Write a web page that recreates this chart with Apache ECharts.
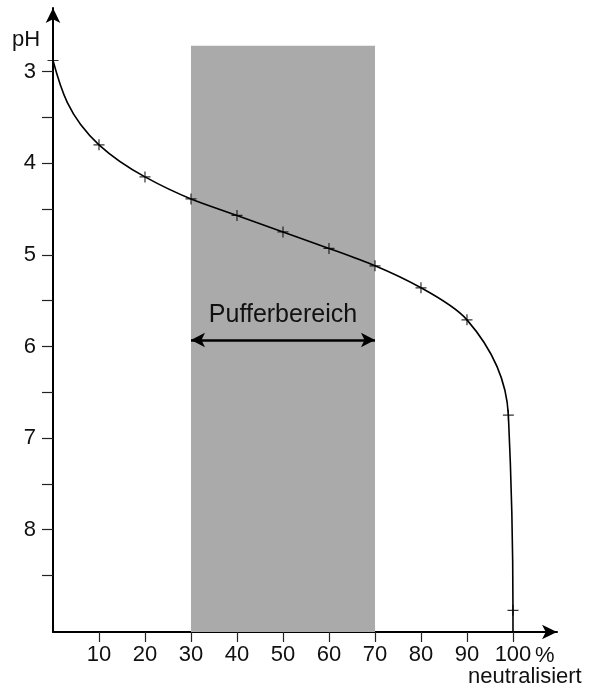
<!DOCTYPE html>
<html>
<head>
<meta charset="utf-8">
<script src="https://cdn.jsdelivr.net/npm/echarts@6/dist/echarts.min.js"></script>
<style>
  html, body { margin: 0; padding: 0; background: #fff; }
  #chart { width: 591px; height: 689px; }
</style>
</head>
<body>
<div id="chart"></div>
<script>
// Titration curve of a weak acid: pH versus percent neutralised
const neutralized = [0, 10, 20, 30, 40, 50, 60, 70, 80, 90, 99, 100];
const phValues = [2.88, 3.80, 4.15, 4.39, 4.57, 4.75, 4.93, 5.12, 5.36, 5.71, 6.75, 8.88];

// Axis ticks and labels
const xTickValues = [10, 20, 30, 40, 50, 60, 70, 80, 90, 100];
const yTickValues = [3, 3.5, 4, 4.5, 5, 5.5, 6, 6.5, 7, 7.5, 8, 8.5];
const yLabelValues = [3, 4, 5, 6, 7, 8];

// Buffer region
const bufferRange = [30, 70];
const bufferLabel = 'Pufferbereich';
const bufferArrowPh = 5.93;
const bufferTopPh = 2.72;

// Axis extents
const xMin = 0, xMax = 109.57;
const yMin = 2.307, yMax = 9.116;

const FONT = '"Liberation Sans", Arial, Helvetica, sans-serif';

const curveData = neutralized.map((x, i) => [x, phValues[i]]);
// the curve drops straight down onto the x axis at full neutralisation
curveData.push([neutralized[neutralized.length - 1], yMax]);

const plusSymbol = 'path://M0,4.45h10v1.1h-10z M4.45,0h1.1v10h-1.1z';

// Monotone cubic through screen points, with x as a function of y
// (pH rises steadily, so the curve is single-valued along y).
function monotoneYPath(pts) {
  const n = pts.length;
  const sign = v => (v > 0 ? 1 : v < 0 ? -1 : 0);
  const secant = [];
  for (let k = 0; k < n - 1; k++) {
    const h = pts[k + 1][1] - pts[k][1];
    secant.push(h ? (pts[k + 1][0] - pts[k][0]) / h : 0);
  }
  const t = new Array(n).fill(0);
  for (let k = 1; k < n - 1; k++) {
    const h0 = pts[k][1] - pts[k - 1][1];
    const h1 = pts[k + 1][1] - pts[k][1];
    const s0 = secant[k - 1], s1 = secant[k];
    const p = (s0 * h1 + s1 * h0) / (h0 + h1);
    t[k] = (sign(s0) + sign(s1)) * Math.min(Math.abs(s0), Math.abs(s1), 0.5 * Math.abs(p)) || 0;
  }
  t[0] = (3 * secant[0] - t[1]) / 2;
  t[n - 1] = (3 * secant[n - 2] - t[n - 2]) / 2;
  let d = 'M' + pts[0][0] + ',' + pts[0][1];
  for (let k = 0; k < n - 1; k++) {
    const [x0, y0] = pts[k];
    const [x1, y1] = pts[k + 1];
    const h = (y1 - y0) / 3;
    d += ' C' + (x0 + h * t[k]) + ',' + (y0 + h) + ' ' +
      (x1 - h * t[k + 1]) + ',' + (y1 - h) + ' ' + x1 + ',' + y1;
  }
  return d;
}

const chart = echarts.init(document.getElementById('chart'), null, { renderer: 'canvas' });

chart.setOption({
  animation: false,
  backgroundColor: '#fff',
  grid: { left: 53, right: 34, top: 8, bottom: 57, containLabel: false },
  xAxis: {
    type: 'value',
    min: xMin,
    max: xMax,
    splitLine: { show: false },
    axisLine: {
      show: true,
      onZero: false,
      symbol: ['none', 'arrow'],
      symbolSize: [11, 15],
      lineStyle: { color: '#000', width: 2 }
    },
    axisTick: {
      show: true,
      inside: false,
      length: 10,
      customValues: xTickValues,
      lineStyle: { color: '#222', width: 1.2 }
    },
    axisLabel: {
      show: true,
      margin: 12,
      customValues: xTickValues,
      color: '#111',
      fontSize: 22,
      fontFamily: FONT
    }
  },
  yAxis: {
    type: 'value',
    inverse: true,
    min: yMin,
    max: yMax,
    splitLine: { show: false },
    axisLine: {
      show: true,
      onZero: false,
      symbol: ['none', 'arrow'],
      symbolSize: [11, 15],
      lineStyle: { color: '#000', width: 2 }
    },
    axisTick: {
      show: true,
      inside: false,
      length: 11,
      customValues: yTickValues,
      lineStyle: { color: '#222', width: 1.2 }
    },
    axisLabel: {
      show: true,
      margin: 17,
      customValues: yLabelValues,
      color: '#111',
      fontSize: 22,
      fontFamily: FONT
    }
  },
  series: [
    {
      type: 'custom',
      name: 'curve',
      data: curveData,
      encode: { x: 0, y: 1 },
      clip: false,
      z: 5,
      silent: true,
      renderItem: function (params, api) {
        if (params.dataIndex !== 0) return null;
        const pts = curveData.map(d => api.coord(d));
        return {
          type: 'path',
          shape: { pathData: monotoneYPath(pts) },
          style: { fill: 'none', stroke: '#000', lineWidth: 1.6 }
        };
      }
    },
    {
      type: 'scatter',
      name: 'points',
      data: neutralized.map((x, i) => [x, phValues[i]]),
      symbol: plusSymbol,
      symbolSize: 11,
      z: 6,
      itemStyle: { color: '#000' },
      markArea: {
        silent: true,
        z: 1,
        itemStyle: { color: '#aaaaaa' },
        data: [[
          { xAxis: bufferRange[0], yAxis: bufferTopPh },
          { xAxis: bufferRange[1], yAxis: yMax }
        ]]
      },
      markLine: {
        silent: true,
        symbol: ['arrow', 'arrow'],
        symbolSize: [11, 14],
        lineStyle: { color: '#000', width: 2.5, type: 'solid' },
        label: {
          show: true,
          position: 'middle',
          formatter: bufferLabel,
          color: '#111',
          fontSize: 25,
          fontFamily: FONT,
          distance: 12
        },
        data: [[
          { coord: [bufferRange[0], bufferArrowPh] },
          { coord: [bufferRange[1], bufferArrowPh] }
        ]]
      }
    }
  ],
  graphic: [
    { type: 'text', left: 12, top: 29, style: { text: 'pH', fontSize: 22, fontFamily: FONT, fill: '#111' } },
    { type: 'text', left: 535, top: 645, style: { text: '%', fontSize: 22, fontFamily: FONT, fill: '#111' } },
    { type: 'text', left: 468, top: 666, style: { text: 'neutralisiert', fontSize: 22, fontFamily: FONT, fill: '#111' } }
  ]
});
</script>
</body>
</html>
